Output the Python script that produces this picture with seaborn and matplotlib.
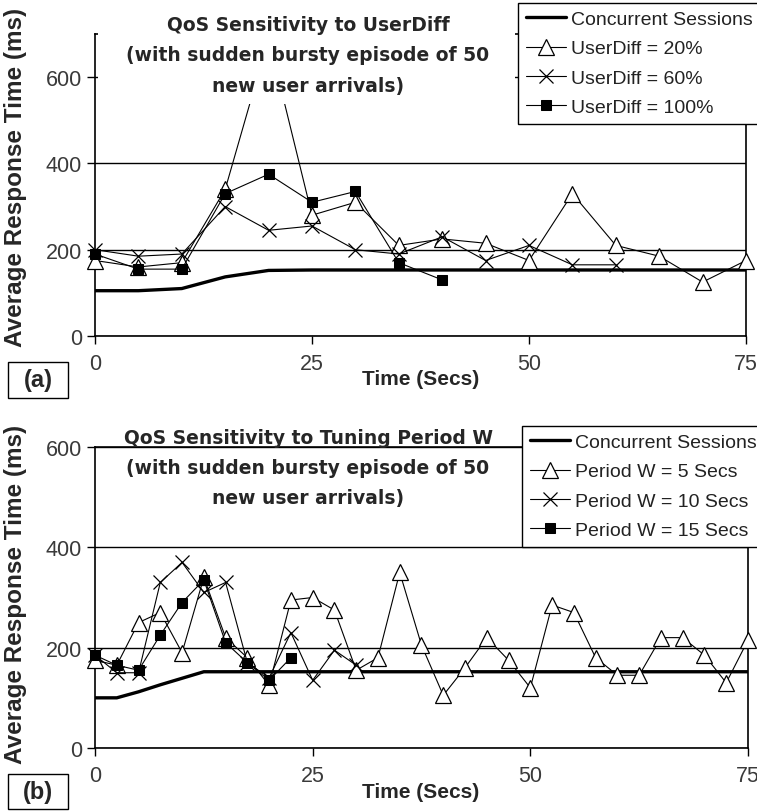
import matplotlib
matplotlib.use("Agg")
import matplotlib.pyplot as plt
import seaborn as sns
from matplotlib.patches import Rectangle

# ---------------- data ----------------
# Panel (a): QoS sensitivity to UserDiff (samples every 5 s)
time_a = [0, 5, 10, 15, 20, 25, 30, 35, 40, 45, 50, 55, 60, 65, 70, 75]
sessions_a = [105, 105, 110, 137, 152, 153, 153, 153, 153, 153, 153, 153, 153, 153, 153, 153]
userdiff20 = [175, 160, 170, 340, 690, 280, 310, 210, 225, 215, 175, 330, 210, 185, 125, 175]
time_ud60 = [0, 5, 10, 15, 20, 25, 30, 35, 40, 45, 50, 55, 60]
userdiff60 = [200, 185, 190, 300, 245, 255, 200, 190, 230, 175, 210, 165, 165]
time_ud100 = [0, 5, 10, 15, 20, 25, 30, 35, 40]
userdiff100 = [190, 155, 155, 330, 375, 310, 335, 170, 130]

# Panel (b): QoS sensitivity to tuning period W (samples every 2.5 s)
time_b = [0, 2.5, 5, 7.5, 10, 12.5, 15, 17.5, 20, 22.5, 25, 27.5, 30, 32.5, 35, 37.5,
          40, 42.5, 45, 47.5, 50, 52.5, 55, 57.5, 60, 62.5, 65, 67.5, 70, 72.5, 75]
sessions_b = [100, 100, 112, 126, 139, 152, 152, 152, 152, 152, 152, 152, 152, 152, 152, 152,
              152, 152, 152, 152, 152, 152, 152, 152, 152, 152, 152, 152, 152, 152, 152]
period5 = [175, 165, 250, 270, 190, 340, 220, 180, 125, 295, 300, 275, 155, 180, 350, 205,
           105, 160, 220, 175, 120, 285, 270, 180, 145, 145, 220, 220, 185, 130, 215]
time_p10 = [0, 2.5, 5, 7.5, 10, 12.5, 15, 17.5, 20, 22.5, 25, 27.5, 30]
period10 = [185, 150, 150, 330, 370, 310, 330, 170, 140, 230, 135, 195, 165]
time_p15 = [0, 2.5, 5, 7.5, 10, 12.5, 15, 17.5, 20, 22.5]
period15 = [185, 165, 155, 225, 290, 335, 210, 170, 135, 180]

x_ticks = [0, 25, 50, 75]
y_ticks = [0, 200, 400, 600]

titles_a = ["QoS Sensitivity to UserDiff", "(with sudden bursty episode of 50", "new user arrivals)"]
titles_b = ["QoS Sensitivity to Tuning Period W", "(with sudden bursty episode of 50", "new user arrivals)"]
labels_a = ["Concurrent Sessions", "UserDiff = 20%", "UserDiff = 60%", "UserDiff = 100%"]
labels_b = ["Concurrent Sessions", "Period W = 5 Secs", "Period W = 10 Secs", "Period W = 15 Secs"]

# ---------------- style ----------------
sns.set_style("ticks")
plt.rcParams["font.family"] = ["Liberation Sans", "DejaVu Sans"]

W, H = 757, 812
fig = plt.figure(figsize=(W / 100, H / 100), dpi=100)


def fx(px):
    return px / W


def fy(py):
    return 1 - py / H


ax1 = fig.add_axes([fx(95), fy(337), (746 - 95) / W, (337 - 35) / H])
ax2 = fig.add_axes([fx(95), fy(749), (748 - 95) / W, (749 - 448) / H])


def style(ax, ymax):
    ax.set_xlim(0, 75)
    ax.set_ylim(0, ymax)
    ax.set_xticks(x_ticks)
    ax.set_yticks(y_ticks)
    ax.grid(axis="y", color="black", lw=1.0)
    ax.grid(axis="x", visible=False)
    ax.set_axisbelow(True)
    for s in ax.spines.values():
        s.set_visible(True)
        s.set_color("black")
        s.set_linewidth(1.2)
    ax.tick_params(axis="both", direction="out", length=6, width=1.0,
                   labelsize=15.5, labelcolor="#3a3a3a", color="black")
    ax.tick_params(axis="x", pad=6)
    ax.tick_params(axis="y", pad=3.5)
    ax.set_xlabel("")
    ax.set_ylabel("")


line_kw = dict(color="black", lw=0.8, zorder=3, clip_on=False)


def draw(ax, t_s, s, t1, v1, t2, v2, t3, v3, labels):
    sns.lineplot(x=t_s, y=s, ax=ax, color="black", lw=2.4, zorder=2, label=labels[0])
    sns.lineplot(x=t1, y=v1, ax=ax, marker="^", markersize=12, markerfacecolor="white",
                 markeredgecolor="black", markeredgewidth=0.9, label=labels[1], **line_kw)
    sns.lineplot(x=t2, y=v2, ax=ax, marker="x", markersize=10, markeredgecolor="black",
                 markeredgewidth=0.9, label=labels[2], **line_kw)
    sns.lineplot(x=t3, y=v3, ax=ax, marker="s", markersize=6.5, markerfacecolor="black",
                 markeredgecolor="black", label=labels[3], **line_kw)


draw(ax1, time_a, sessions_a, time_a, userdiff20, time_ud60, userdiff60,
     time_ud100, userdiff100, labels_a)
draw(ax2, time_b, sessions_b, time_b, period5, time_p10, period10,
     time_p15, period15, labels_b)
style(ax1, 700)
style(ax2, 600)


def legend(ax, x_px, y_px):
    leg = ax.legend(loc="upper left", bbox_to_anchor=(fx(x_px), fy(y_px)),
                    bbox_transform=fig.transFigure, borderaxespad=0, frameon=True,
                    fancybox=False, framealpha=1, edgecolor="black", facecolor="white",
                    fontsize=14, handlelength=2.1, handletextpad=0.26,
                    labelspacing=0.6, borderpad=0.39)
    leg.get_frame().set_linewidth(1.0)
    for txt in leg.get_texts():
        txt.set_color("#222222")
    leg.set_zorder(10)


legend(ax1, 518, 4)
legend(ax2, 522, 427)

# title boxes (white, hide lines underneath)
fig.add_artist(Rectangle((fx(98), fy(105)), (515 - 98) / W, 100 / H,
                         transform=fig.transFigure, facecolor="white",
                         edgecolor="none", zorder=5))
fig.add_artist(Rectangle((fx(98), fy(514)), (516 - 98) / W, (514 - 452) / H,
                         transform=fig.transFigure, facecolor="white",
                         edgecolor="none", zorder=5))

for txt, yb in zip(titles_a, [31, 61, 92]):
    fig.text(fx(308), fy(yb), txt, ha="center", va="baseline", fontsize=13.5,
             fontweight="bold", family=["DejaVu Sans"], zorder=6)
for txt, yb in zip(titles_b, [444, 474, 504]):
    fig.text(fx(308), fy(yb), txt, ha="center", va="baseline", fontsize=13.5,
             fontweight="bold", family=["DejaVu Sans"], zorder=6)

# axis labels
for yc in [177, 594]:
    fig.text(fx(16), fy(yc), "Average Response Time (ms)", rotation=90, ha="center",
             va="center", fontsize=17.5, fontweight="bold")
for yc in [380, 793]:
    fig.text(fx(421), fy(yc), "Time (Secs)", ha="center", va="center",
             fontsize=15, fontweight="bold")

# panel tags
for (y0, y1, tag) in [(363, 399, "(a)"), (775, 810, "(b)")]:
    fig.add_artist(Rectangle((fx(8), fy(y1)), 60 / W, (y1 - y0) / H,
                             transform=fig.transFigure, facecolor="white",
                             edgecolor="black", lw=1.0, zorder=5))
    fig.text(fx(38), fy((y0 + y1) / 2), tag, ha="center", va="center",
             fontsize=17, fontweight="bold", zorder=6)

fig.savefig("out.png", dpi=100)
